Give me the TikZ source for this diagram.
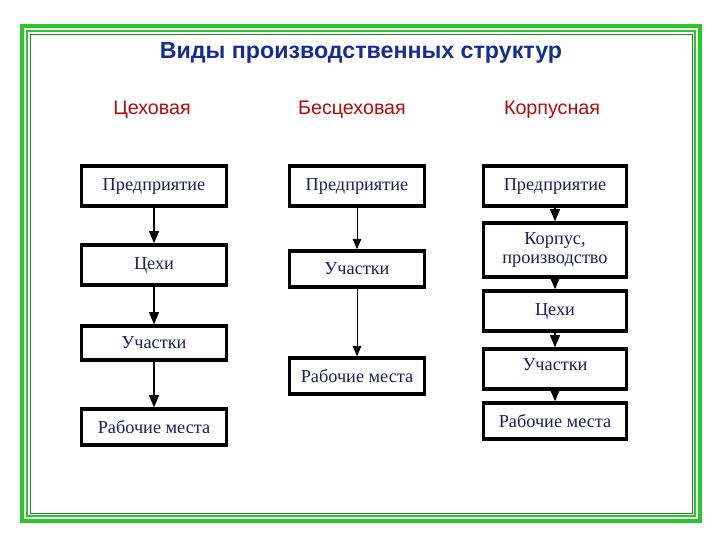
\documentclass[tikz,border=0pt]{standalone}
\usepackage{fontspec}
\setmainfont{Liberation Serif}
\setsansfont{Liberation Sans}
\usetikzlibrary{arrows,positioning}
\definecolor{frame}{RGB}{40,200,40}
\definecolor{titleblue}{RGB}{20,45,150}
\definecolor{headred}{RGB}{180,10,10}
\definecolor{boxtext}{RGB}{25,30,100}
\begin{document}
\begin{tikzpicture}[x=0.025cm,y=-0.025cm,thick,->,>=triangle 45]
    \tikzstyle{unit}=[rectangle, draw, line width=2.5pt, fill=white, text=boxtext, font=\fontsize{13}{14}\selectfont, align=center, inner sep=1pt]
    \tikzstyle{head}=[text=headred, font=\sffamily\fontsize{14}{15}\selectfont]
    \tikzstyle{link}=[line width=1pt]

    \useasboundingbox (0,0) rectangle (720,540);
    % green frame
    \draw[-, frame, line width=3pt] (22,26) rectangle (700,521);
    \draw[-, frame, line width=1.2pt] (27,31) rectangle (695,516);
    \draw[-, frame!70!black, line width=0.6pt] (30,34) rectangle (692,513);

    \node[text=titleblue, font=\sffamily\bfseries\fontsize{16.5}{18}\selectfont] (title) at (361,53) {Виды производственных структур};

    \node[head] (h1) at (152,110) {Цеховая};
    \node[head] (h2) at (352,110) {Бесцеховая};
    \node[head] (h3) at (552,110) {Корпусная};

    % Цеховая
    \node[unit, minimum width=145*0.025cm, minimum height=40*0.025cm] (p1) at (154,186) {Предприятие};
    \node[unit, minimum width=145*0.025cm, minimum height=40*0.025cm] (c1) at (154,265) {Цехи};
    \node[unit, minimum width=145*0.025cm, minimum height=34*0.025cm] (u1) at (154,343) {Участки};
    \node[unit, minimum width=145*0.025cm, minimum height=36*0.025cm] (r1) at (154,427) {Рабочие места};

    % Бесцеховая
    \node[unit, minimum width=135*0.025cm, minimum height=40*0.025cm] (p2) at (357,186) {Предприятие};
    \node[unit, minimum width=135*0.025cm, minimum height=36*0.025cm] (u2) at (357,269) {Участки};
    \node[unit, minimum width=135*0.025cm, minimum height=36*0.025cm] (r2) at (357,376) {Рабочие места};

    % Корпусная
    \node[unit, minimum width=143*0.025cm, minimum height=40*0.025cm] (p3) at (555,186) {Предприятие};
    \node[unit, minimum width=143*0.025cm, minimum height=54*0.025cm] (k3) at (555,250) {Корпус,\\производство};
    \node[unit, minimum width=143*0.025cm, minimum height=40*0.025cm] (c3) at (555,311) {Цехи};
    \node[unit, minimum width=143*0.025cm, minimum height=40*0.025cm, text depth=6pt] (u3) at (555,369) {Участки};
    \node[unit, minimum width=143*0.025cm, minimum height=36*0.025cm] (r3) at (555,421) {Рабочие места};

    \draw[link] (p1.south) -- (c1.north);
    \draw[link] (c1.south) -- (u1.north);
    \draw[link] (u1.south) -- (r1.north);

    \draw[link, line width=0.7pt] (p2.south) -- (u2.north);
    \draw[link, line width=0.7pt] (u2.south) -- (r2.north);

    \draw[link] (p3.south) -- (k3.north);
    \draw[link] (k3.south) -- (c3.north);
    \draw[link] (c3.south) -- (u3.north);
    \draw[link] (u3.south) -- (r3.north);
\end{tikzpicture}
\end{document}
